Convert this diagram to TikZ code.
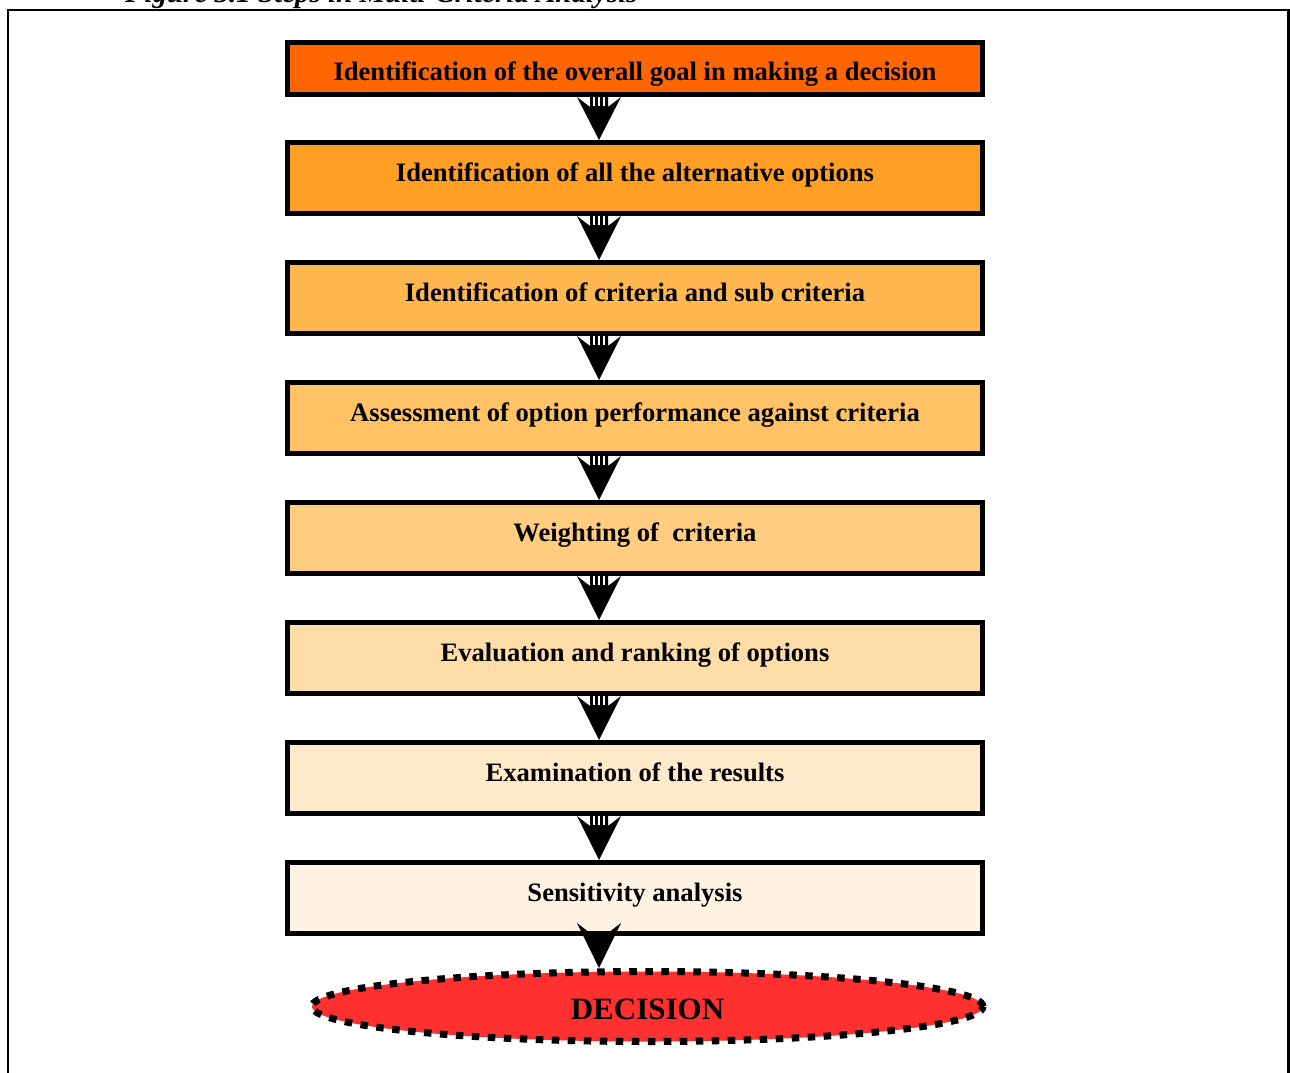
\documentclass[tikz,border=0pt]{standalone}
\usepackage{fontspec}
\setmainfont{Liberation Serif}
\usetikzlibrary{shapes.geometric,calc}
\definecolor{c1}{HTML}{FF6600}
\definecolor{c2}{HTML}{FFA024}
\definecolor{c3}{HTML}{FFB84F}
\definecolor{c4}{HTML}{FFC366}
\definecolor{c5}{HTML}{FFCC80}
\definecolor{c6}{HTML}{FFDDA8}
\definecolor{c7}{HTML}{FFEBCB}
\definecolor{c8}{HTML}{FFF4E3}
\definecolor{decred}{HTML}{FF3030}
\tikzset{
  stepbox/.style={draw=black, line width=5pt, minimum width=695pt, minimum height=71pt,
    inner sep=0pt, font=\fontsize{26.6}{30}\selectfont\bfseries,
    text height=18pt, text depth=10.4pt},
  firstbox/.style={stepbox, minimum height=52pt, text height=23.6pt, text depth=0pt},
  decision/.style={ellipse, draw=black, line width=7pt, dash pattern=on 7.5pt off 8.5pt,
    fill=decred, minimum width=671pt, minimum height=70pt, inner sep=0pt,
    font=\fontsize{31}{34}\selectfont\bfseries, text height=25.5pt, text depth=0pt},
  frameline/.style={line width=2.5pt},
  stripe/.style={white, line width=1.8pt},
}
% striped block arrow from the bottom of #1 to the top of #2
% #3 = how far the barbs rise above #1's bottom, #4 = stripe length
\newcommand\mcaarrow[4]{%
  \fill[black] let \p1=(#1.south), \p2=(#2.north) in
    (\x1-58pt,\y1+#3) -- (\x1-45pt,\y1+#3-10pt) -- (\x1-45pt,\y1)
    -- (\x1-27pt,\y1) -- (\x1-27pt,\y1+#3-10pt) -- (\x1-14pt,\y1+#3)
    -- (\x1-36pt,\y2) -- cycle;
  \draw[stripe] let \p1=(#1.south) in
    (\x1-41pt,\y1) -- (\x1-41pt,\y1-#4)
    (\x1-36pt,\y1) -- (\x1-36pt,\y1-#4)
    (\x1-31pt,\y1) -- (\x1-31pt,\y1-#4);
}
\begin{document}
\begin{tikzpicture}[x=1pt,y=-1pt]
\useasboundingbox (0,0) rectangle (1290,1073);
\draw[frameline] (8,1090) -- (8,10) -- (1288.5,10) -- (1288.5,1090);
\node[anchor=base west, inner sep=0pt, font=\fontsize{29}{32}\selectfont\bfseries\itshape]
  (title) at (125,3) {Figure 3.1 Steps in Multi-Criteria Analysis};

\node[firstbox, fill=c1] (b1) at (635,68.5) {Identification of the overall goal in making a decision};
\node[stepbox, fill=c2] (b2) at (635,178) {Identification of all the alternative options};
\node[stepbox, fill=c3] (b3) at (635,298) {Identification of criteria and sub criteria};
\node[stepbox, fill=c4] (b4) at (635,418) {Assessment of option performance against criteria};
\node[stepbox, fill=c5] (b5) at (635,538) {Weighting of \ criteria};
\node[stepbox, fill=c6] (b6) at (635,658) {Evaluation and ranking of options};
\node[stepbox, fill=c7] (b7) at (635,778) {Examination of the results};
\node[stepbox, fill=c8] (b8) at (635,898) {Sensitivity analysis};
\node[decision] (dec) at (647.5,1006.5) {DECISION};

\mcaarrow{b1}{b2}{0pt}{9pt}
\mcaarrow{b2}{b3}{0pt}{9pt}
\mcaarrow{b3}{b4}{0pt}{9pt}
\mcaarrow{b4}{b5}{0pt}{9pt}
\mcaarrow{b5}{b6}{0pt}{9pt}
\mcaarrow{b6}{b7}{0pt}{9pt}
\mcaarrow{b7}{b8}{0pt}{9pt}
\mcaarrow{b8}{dec}{13pt}{0pt}
\end{tikzpicture}
\end{document}
